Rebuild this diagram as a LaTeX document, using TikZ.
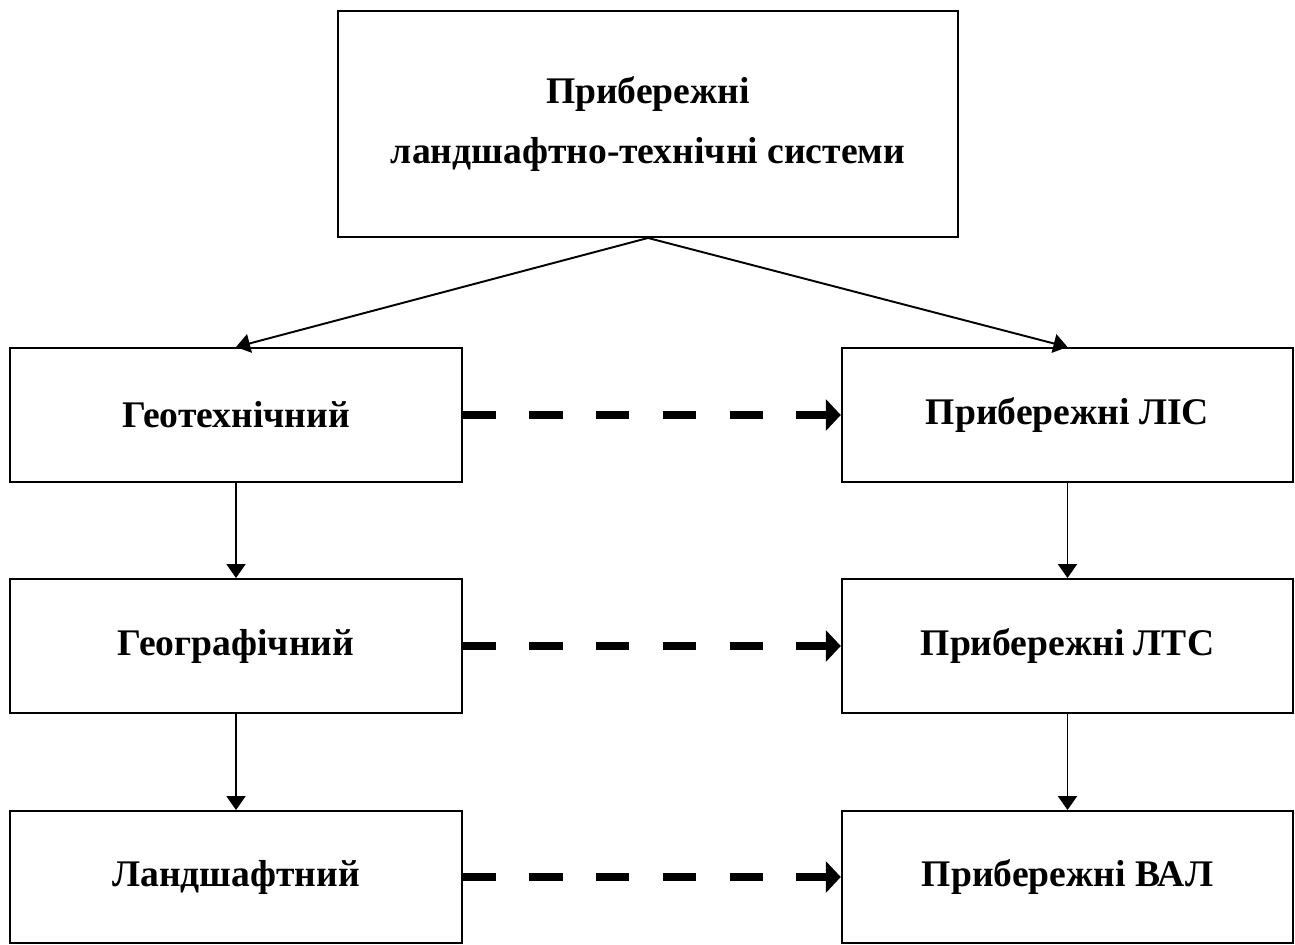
\documentclass[tikz,border=0pt]{standalone}
\usepackage{fontspec}
\setmainfont{Liberation Serif}
\usepackage{tikz}
\usetikzlibrary{positioning,arrows.meta}

\begin{document}
\begin{tikzpicture}[
    box/.style={draw, line width=1.1pt, minimum width=9.03cm, minimum height=2.68cm,
      font=\fontsize{21.4}{34}\selectfont\bfseries, align=center, inner sep=0pt},
    link/.style={line width=1.1pt, -{Triangle[length=0.28cm, width=0.38cm]}},
    dlink/.style={line width=4pt, dash pattern=on 0.667cm off 0.667cm,
      -{Triangle[length=0.3cm, width=0.62cm]}}
  ]
  % Set the picture size
  \useasboundingbox (0,0) rectangle (25.9,-18.88);

  % Draw the top box
  \node[box, minimum width=12.4cm, minimum height=4.52cm] (top) at (12.96,-2.48)
    {Прибережні\\ландшафтно-технічні системи};

  % Draw the left column
  \node[box] (geotech) at (4.72,-8.3) {Геотехнічний};
  \node[box] (geograf) at (4.72,-12.92) {Географічний};
  \node[box, minimum height=2.64cm] (landsh) at (4.72,-17.54) {Ландшафтний};

  % Draw the right column
  \node[box] (lis) at (21.35,-8.3) {Прибережні ЛІС};
  \node[box] (lts) at (21.35,-12.92) {Прибережні ЛТС};
  \node[box, minimum height=2.64cm] (val) at (21.35,-17.54) {Прибережні ВАЛ};

  % Arrows from the top box
  \draw[link] (top.south) -- (geotech.north);
  \draw[link] (top.south) -- (lis.north);

  % Vertical arrows
  \draw[link] (geotech) -- (geograf);
  \draw[link] (geograf) -- (landsh);
  \draw[link] (lis) -- (lts);
  \draw[link] (lts) -- (val);

  % Dashed arrows
  \draw[dlink] (geotech) -- (lis);
  \draw[dlink] (geograf) -- (lts);
  \draw[dlink] (landsh) -- (val);

\end{tikzpicture}
\end{document}
